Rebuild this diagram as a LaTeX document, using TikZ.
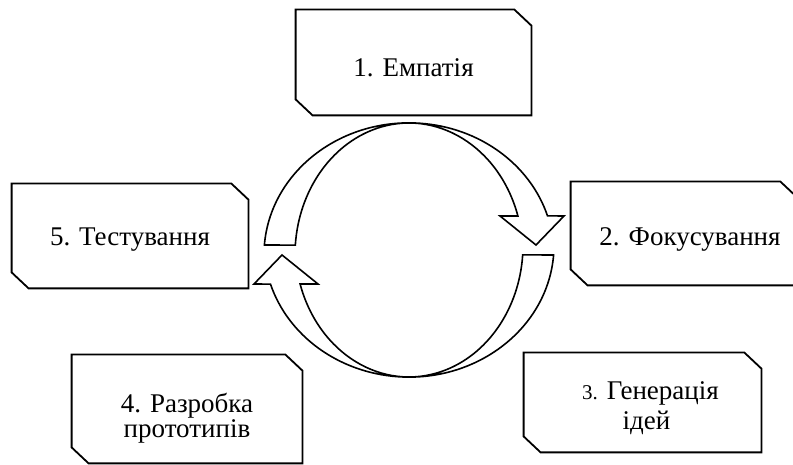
\documentclass[tikz,border=0pt]{standalone}
\usepackage{fontspec}
\setmainfont{Liberation Serif}
\usetikzlibrary{positioning, calc}

\begin{document}
\begin{tikzpicture}[x=0.5pt, y=0.5pt,
    stage/.style={rectangle, inner sep=0pt},
    stagetext/.style={inner sep=0pt, align=center, font=\fontsize{13.5}{15}\selectfont},
    outline/.style={draw=black, line width=0.9pt},
    cyc/.style={draw=black, fill=white, line width=0.8pt}]
    \useasboundingbox (0,0) rectangle (793,465);
    \clip (0,0) rectangle (793,465);
    % stages
    \node[stage, minimum width=117.5pt, minimum height=52.5pt] (emp) at (413.5,402.5) {};
    \node[stage, minimum width=113pt, minimum height=51.5pt] (foc) at (684,231.5) {};
    \node[stage, minimum width=118.5pt, minimum height=49.5pt] (gen) at (642.5,62.5) {};
    \node[stage, minimum width=115pt, minimum height=54pt] (pro) at (187,56) {};
    \node[stage, minimum width=118pt, minimum height=52pt] (tes) at (130,229) {};
    \foreach \n in {emp,foc,gen,pro,tes}
        \draw[outline] (\n.north west) -- ([xshift=-8.5pt]\n.north east) -- ([yshift=-8pt]\n.north east)
            -- (\n.south east) -- ([xshift=8.5pt]\n.south west) -- ([yshift=8pt]\n.south west) -- cycle;
    \node[stagetext] (emp-t) at ([yshift=-2.5pt]emp.center) {1. Емпатія};
    \node[stagetext] (foc-t) at ([xshift=3pt, yshift=-3pt]foc.center) {2. Фокусування};
    \node[stagetext] (gen-t) at ([xshift=4pt, yshift=-3pt]gen.center)
        {{\fontsize{10.5}{15}\selectfont 3.} Генерація\\ідей\hspace*{4pt}};
    \node[stagetext, font=\fontsize{13.5}{12.5}\selectfont] (pro-t) at ([yshift=-4.5pt]pro.center) {4. Разробка\\прототипів};
    \node[stagetext] (tes-t) at ([yshift=-2pt]tes.center) {5. Тестування};
    % cycle arrows
    \begin{scope}[shift={(409,215)}]
        \foreach \r in {0,180}
            \draw[cyc, rotate=\r] (-144.6,5) arc[start angle=175.7, end angle=17.19, x radius=145, y radius=132]
                -- (155,34) -- (127,5) -- (91,34) -- (108.9,34)
                arc[start angle=17.19, end angle=175.7, x radius=114, y radius=132] -- cycle;
    \end{scope}
\end{tikzpicture}
\end{document}
